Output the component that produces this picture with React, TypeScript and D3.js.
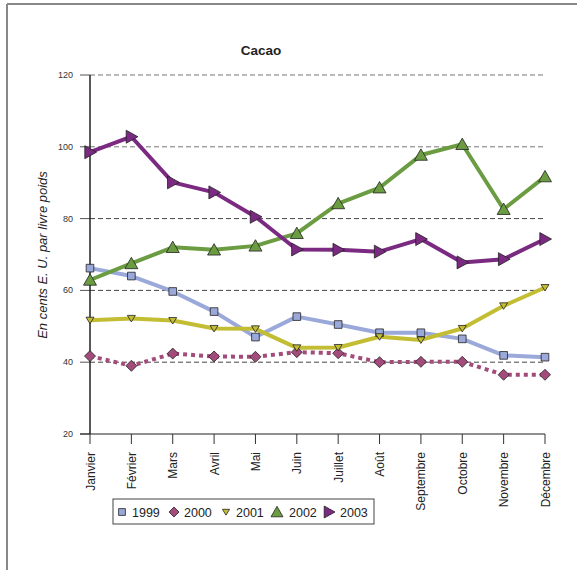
import React from "react";
import * as d3 from "d3";

const months = ["Janvier", "Février", "Mars", "Avril", "Mai", "Juin", "Juillet", "Août", "Septembre", "Octobre", "Novembre", "Décembre"];
const yTicks = [20, 40, 60, 80, 100, 120];
const gridValues = [40, 60, 80, 100, 120];

const v1999 = [66.2, 64.0, 59.7, 54.1, 47.0, 52.7, 50.5, 48.2, 48.2, 46.5, 41.9, 41.4];
const v2000 = [41.7, 39.0, 42.4, 41.6, 41.5, 42.8, 42.5, 40.0, 40.1, 40.1, 36.5, 36.5];
const v2001 = [51.7, 52.2, 51.6, 49.4, 49.3, 44.0, 44.1, 47.1, 46.2, 49.4, 55.7, 60.8];
const v2002 = [62.9, 67.5, 72.0, 71.3, 72.4, 75.9, 84.2, 88.6, 97.7, 100.7, 82.6, 91.7];
const v2003 = [98.5, 102.8, 90.1, 87.3, 80.5, 71.4, 71.3, 70.8, 74.3, 67.8, 68.7, 74.3];

type Series = { name: string; values: number[]; color: string; fill: string; marker: string; dotted?: boolean };

const series: Series[] = [
  { name: "1999", values: v1999, color: "#9ba9da", fill: "#9ba9da", marker: "square" },
  { name: "2000", values: v2000, color: "#a34c7c", fill: "#a34c7c", marker: "diamond", dotted: true },
  { name: "2001", values: v2001, color: "#c2bd33", fill: "#c2bd33", marker: "down" },
  { name: "2002", values: v2002, color: "#6b9c42", fill: "#6b9c42", marker: "up" },
  { name: "2003", values: v2003, color: "#7b2a82", fill: "#7b2a82", marker: "right" },
];

const x = d3.scalePoint<string>().domain(months).range([90, 545]);
const y = d3.scaleLinear().domain([20, 120]).range([434, 75]);

function markerPath(kind: string, s: number): string {
  const h = s / 2;
  switch (kind) {
    case "square":
      return `M${-h * 0.85},${-h * 0.85}H${h * 0.85}V${h * 0.85}H${-h * 0.85}Z`;
    case "diamond":
      return `M0,${-h}L${h},0L0,${h}L${-h},0Z`;
    case "down":
      return `M${-h * 0.8},${-h * 0.6}L${h * 0.8},${-h * 0.6}L0,${h * 0.7}Z`;
    case "up":
      return `M${-h},${h * 0.8}L${h},${h * 0.8}L0,${-h * 0.95}Z`;
    case "right":
      return `M${-h * 0.8},${-h}L${h},0L${-h * 0.8},${h}Z`;
    default:
      return "";
  }
}

const markerSize: Record<string, number> = { square: 9, diamond: 11, down: 10, up: 13, right: 13 };

export default function App() {
  const line = d3
    .line<number>()
    .x((_, i) => x(months[i]) as number)
    .y((d) => y(d));

  const legendItems = [
    { sym: 122, text: 132 },
    { sym: 174, text: 184 },
    { sym: 226, text: 236 },
    { sym: 277, text: 289 },
    { sym: 329, text: 340 },
  ];

  return (
    <svg width={577} height={570} style={{ position: "absolute", left: 0, top: 0 }} fontFamily="Liberation Sans, Arial, sans-serif">
      <rect x={0} y={0} width={577} height={570} fill="#fff" />
      {/* frame */}
      <line x1={7} y1={4} x2={577} y2={4} stroke="#888" strokeWidth={2} />
      <line x1={7} y1={4} x2={7} y2={570} stroke="#888" strokeWidth={2} />

      <text x={261} y={55} textAnchor="middle" fontSize={13.5} fontWeight="bold" fill="#222">Cacao</text>

      {/* gridlines */}
      {gridValues.map((v) => (
        <line key={v} x1={90} x2={545} y1={y(v)} y2={y(v)} stroke={v >= 100 ? "#777" : "#444"} strokeWidth={1} strokeDasharray="5,3" />
      ))}

      {/* y ticks */}
      {yTicks.map((v) => (
        <g key={v}>
          <line x1={80} x2={90} y1={y(v)} y2={y(v)} stroke="#555" strokeWidth={1} />
          <text x={73} y={y(v) + 3} textAnchor="end" fontSize={9} fill="#333">{v}</text>
        </g>
      ))}

      {/* axes */}
      <line x1={90} x2={90} y1={y(120)} y2={y(20)} stroke="#222" strokeWidth={1.5} />
      <line x1={80} x2={545} y1={y(20)} y2={y(20)} stroke="#222" strokeWidth={1.2} />

      {months.map((m) => (
        <g key={m}>
          <line x1={x(m)} x2={x(m)} y1={y(20)} y2={y(20) + 10} stroke="#333" strokeWidth={1} />
          <text transform={`translate(${(x(m) as number) + 4.5},452) rotate(-90)`} textAnchor="end" fontSize={12} fill="#222">{m}</text>
        </g>
      ))}

      <text transform="translate(47,255) rotate(-90)" textAnchor="middle" fontSize={13} fontStyle="italic" fill="#222">En cents E. U. par livre poids</text>

      {/* series lines */}
      {series.map((s) => (
        <path key={s.name} d={line(s.values) || ""} fill="none" stroke={s.color} strokeWidth={4}
          strokeDasharray={s.dotted ? "4,4" : undefined} strokeLinejoin="round" />
      ))}

      {/* markers */}
      {series.map((s) => (
        <g key={s.name + "m"}>
          {s.values.map((v, i) => (
            <path key={i} transform={`translate(${x(months[i])},${y(v)})`} d={markerPath(s.marker, markerSize[s.marker])}
              fill={s.fill} stroke="#222" strokeWidth={0.8} />
          ))}
        </g>
      ))}

      {/* legend */}
      <rect x={113} y={499} width={261} height={25} fill="#fff" stroke="#444" strokeWidth={1} />
      {series.map((s, i) => (
        <g key={s.name + "l"}>
          <path transform={`translate(${legendItems[i].sym},512)`} d={markerPath(s.marker, markerSize[s.marker] - 1)} fill={s.fill} stroke="#222" strokeWidth={0.8} />
          <text x={legendItems[i].text} y={516.5} fontSize={12.5} fill="#222">{s.name}</text>
        </g>
      ))}
    </svg>
  );
}
